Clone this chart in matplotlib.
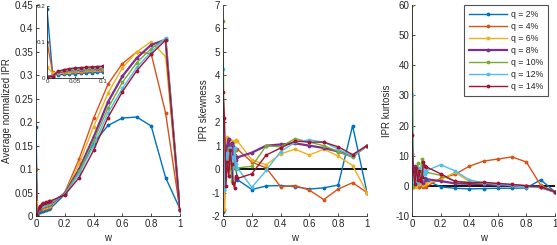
import matplotlib.pyplot as plt
import numpy as np
from matplotlib.ticker import FormatStrFormatter

plt.rcParams['font.family'] = ['Liberation Sans', 'DejaVu Sans']

w = [0, 0.01, 0.02, 0.03, 0.04, 0.05, 0.06, 0.07, 0.08, 0.09, 0.1,
     0.2, 0.3, 0.4, 0.5, 0.6, 0.7, 0.8, 0.9, 1.0]
labels = ['q = 2%', 'q = 4%', 'q = 6%', 'q = 8%', 'q = 10%', 'q = 12%', 'q = 14%']
colors = ['#0072BD', '#D95319', '#EDB120', '#7E2F8E', '#77AC30', '#4DBEEE', '#A2142F']

# average normalized IPR
ipr = [
    [0.19, 0.010, 0.008, 0.009, 0.010, 0.011, 0.012, 0.013, 0.014, 0.015, 0.016,
     0.046, 0.095, 0.155, 0.193, 0.209, 0.211, 0.192, 0.082, 0.015],
    [0.10, 0.015, 0.013, 0.014, 0.015, 0.016, 0.017, 0.018, 0.019, 0.020, 0.021,
     0.050, 0.122, 0.208, 0.281, 0.325, 0.350, 0.346, 0.220, 0.012],
    [0.030, 0.012, 0.014, 0.016, 0.017, 0.018, 0.019, 0.020, 0.021, 0.022, 0.023,
     0.049, 0.112, 0.190, 0.262, 0.316, 0.350, 0.372, 0.340, 0.012],
    [0.003, 0.005, 0.015, 0.018, 0.020, 0.021, 0.022, 0.023, 0.024, 0.025, 0.026,
     0.048, 0.100, 0.168, 0.243, 0.298, 0.337, 0.365, 0.376, 0.012],
    [0.002, 0.004, 0.016, 0.019, 0.021, 0.022, 0.023, 0.024, 0.025, 0.026, 0.027,
     0.047, 0.095, 0.160, 0.230, 0.285, 0.327, 0.357, 0.378, 0.012],
    [0.002, 0.003, 0.017, 0.020, 0.022, 0.024, 0.025, 0.026, 0.027, 0.028, 0.029,
     0.046, 0.090, 0.150, 0.220, 0.272, 0.317, 0.350, 0.380, 0.012],
    [0.002, 0.003, 0.018, 0.022, 0.025, 0.027, 0.028, 0.029, 0.030, 0.031, 0.032,
     0.045, 0.082, 0.140, 0.210, 0.265, 0.310, 0.345, 0.375, 0.012],
]

# IPR skewness
skew = [
    [-1.85, -0.9, 0.9, 1.0, 0.6, 1.2, 0.7, 1.0, 0.3, 0.0, -0.45,
     -0.87, -0.72, -0.70, -0.75, -0.85, -0.80, -0.68, 1.85, -1.0],
    [-0.7, -1.75, 0.4, 1.3, 0.2, 1.2, 0.5, 0.9, 0.6, 0.8, 0.85,
     0.3, 0.05, -0.75, -0.70, -0.90, -1.30, -0.85, -0.58, -1.0],
    [0.9, -1.7, 1.3, 1.35, 0.8, 1.1, 1.2, 1.1, 1.2, 1.25, 1.2,
     0.4, 0.18, 0.65, 0.85, 0.60, 0.85, 0.55, 0.15, -1.0],
    [0.3, -0.5, 0.7, 1.0, 1.3, 0.2, 1.1, 0.6, 0.2, 0.4, 0.5,
     0.7, 1.0, 1.05, 1.1, 1.0, 0.9, 0.75, 0.55, 1.0],
    [6.3, -0.8, 0.2, 0.6, 0.9, 0.3, -0.5, 0.1, 0.8, 0.0, 0.05,
     0.12, 1.0, 0.95, 1.3, 1.15, 1.0, 0.75, 0.5, 1.0],
    [4.25, -0.9, 0.5, 0.7, -0.3, 0.9, 0.5, -0.4, 0.9, 0.2, 0.05,
     -0.78, -0.05, 0.75, 1.15, 1.25, 1.15, 0.85, 0.55, 1.0],
    [3.3, 2.2, -0.7, 0.3, -0.3, 0.8, 0.2, -0.6, -0.8, -0.3, -0.4,
     -0.2, 0.6, 0.9, 1.2, 1.15, 1.15, 0.95, 0.62, 1.0],
]

# IPR kurtosis
kurt = [
    [3.5, 0.5, 1.0, 0.3, 2.0, -0.3, 1.0, 0.5, 1.5, 2.5, 1.8,
     -0.3, -0.8, -1.0, -0.9, -0.8, -0.8, -0.7, 2.0, -2.0],
    [1.0, -0.5, 0.5, 0.0, 1.0, -0.3, 0.2, 0.3, -0.3, 0.0, -0.3,
     2.5, 3.8, 6.5, 8.2, 8.9, 9.6, 7.9, 0.2, -2.0],
    [-0.5, -0.5, 0.2, -0.3, 0.8, 0.5, 1.5, 1.0, 0.2, 0.5, 0.8,
     2.0, 4.5, 1.5, 0.8, 0.3, 0.2, -0.3, -0.2, -2.0],
    [10.5, 1.0, 6.5, 2.0, 5.0, 1.5, 4.0, 2.5, 1.0, 2.0, 2.2,
     1.6, 0.8, 0.7, 0.6, 0.3, 0.1, 0.0, -0.5, -2.0],
    [60.0, -0.5, 3.0, 1.0, 7.5, 2.0, 5.0, 9.0, 4.0, 5.0, 4.5,
     3.5, 1.5, 1.2, 0.9, 0.7, 0.3, -0.2, -0.4, -2.0],
    [30.0, 1.0, 2.0, 4.0, 1.0, 6.0, 3.0, 2.0, 7.0, 4.0, 5.0,
     7.0, 5.0, 2.0, 1.0, 0.5, 0.2, -0.3, -0.5, -2.0],
    [17.0, 5.0, 0.5, 6.0, 2.0, 5.0, 1.5, 3.0, 8.0, 6.5, 6.3,
     4.0, 1.5, 1.0, 1.2, 0.8, 0.5, 0.0, -0.3, -2.0],
]

axc = '#262626'
fs = 7

fig = plt.figure(figsize=(5.57, 2.45), dpi=100)
ax1 = fig.add_axes([0.0646, 0.1184, 0.2585, 0.8612])
ax2 = fig.add_axes([0.4004, 0.1184, 0.2585, 0.8612])
ax3 = fig.add_axes([0.7397, 0.1184, 0.2567, 0.8612])
ins = fig.add_axes([0.0844, 0.683, 0.1005, 0.294])


def style(ax, size=fs):
    for s in ['top', 'right']:
        ax.spines[s].set_visible(False)
    for s in ['left', 'bottom']:
        ax.spines[s].set_color(axc)
        ax.spines[s].set_linewidth(0.6)
    ax.tick_params(direction='in', length=2.5, width=0.6, colors=axc,
                   labelsize=size, pad=2)
    ax.xaxis.set_major_formatter(FormatStrFormatter('%g'))
    ax.yaxis.set_major_formatter(FormatStrFormatter('%g'))


def draw(ax, data, xs=w):
    for i in range(len(data)):
        lw = 1.6 if i == 3 else 1.0
        ax.plot(xs, data[i], color=colors[i], lw=lw, marker='.',
                markersize=3.5, label=labels[i])


draw(ax1, ipr)
ax1.set_xlim(0, 1)
ax1.set_ylim(0, 0.45)
ax1.set_yticks(np.arange(0, 0.451, 0.05))
ax1.set_xticks(np.arange(0, 1.01, 0.2))
ax1.set_ylabel('Average normalized IPR', fontsize=fs, color=axc, labelpad=2)
ax1.set_xlabel('w', fontsize=fs, color=axc, labelpad=3)
style(ax1)

draw(ins, [d[:11] for d in ipr], w[:11])
ins.set_xlim(0, 0.1)
ins.set_ylim(0, 0.2)
ins.set_xticks([0, 0.05, 0.1])
ins.set_yticks([0, 0.1, 0.2])
style(ins, 4.5)
ins.tick_params(pad=1, length=1.5)
ins.patch.set_alpha(0)

ax2.axhline(0, color='black', lw=1.3)
draw(ax2, skew)
ax2.set_xlim(0, 1)
ax2.set_ylim(-2, 7)
ax2.set_yticks(np.arange(-2, 8, 1))
ax2.set_xticks(np.arange(0, 1.01, 0.2))
ax2.set_ylabel('IPR skewness', fontsize=fs, color=axc, labelpad=2)
ax2.set_xlabel('w', fontsize=fs, color=axc, labelpad=3)
style(ax2)

ax3.axhline(0, color='black', lw=1.3)
draw(ax3, kurt)
ax3.set_xlim(0, 1)
ax3.set_ylim(-10, 60)
ax3.set_yticks(np.arange(-10, 61, 10))
ax3.set_xticks(np.arange(0, 1.01, 0.2))
ax3.set_ylabel('IPR kurtosis', fontsize=fs, color=axc, labelpad=2)
ax3.set_xlabel('w', fontsize=fs, color=axc, labelpad=3)
style(ax3)
leg = ax3.legend(loc='upper right', bbox_to_anchor=(0.953, 1.0), fontsize=6.3,
                 frameon=True, fancybox=False, handlelength=4.4,
                 labelspacing=0.33, borderpad=0.6, handletextpad=0.4,
                 borderaxespad=0, markerscale=1.0)
leg.get_frame().set_edgecolor(axc)
leg.get_frame().set_linewidth(0.8)
for t in leg.get_texts():
    t.set_color(axc)

fig.savefig('out.png', dpi=100)
